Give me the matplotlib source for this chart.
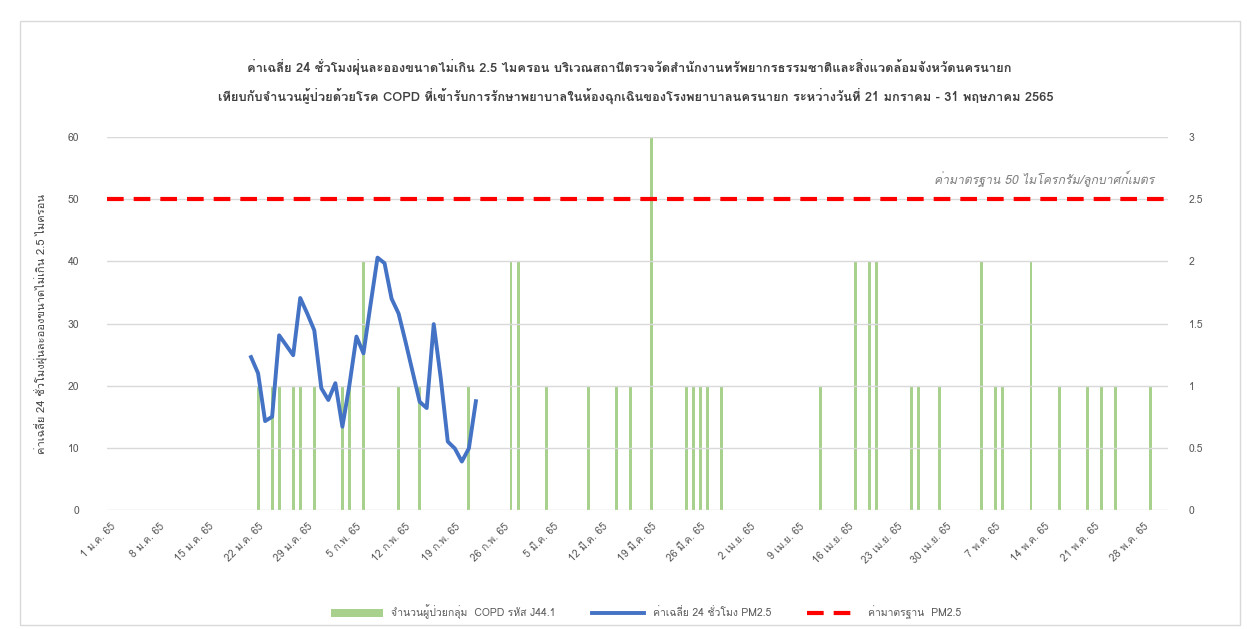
"""
PM2.5 daily average vs COPD emergency visits, Nakhon Nayok (Jan - May 2565).
"""

import matplotlib
matplotlib.use("Agg")
import matplotlib.pyplot as plt
import pandas as pd
from matplotlib import font_manager
from matplotlib.ft2font import FT2Font
from matplotlib.lines import Line2D
from matplotlib.patches import Patch, Rectangle

# ── Data ──────────────────────────────────────────────────────────────────
pm25_start = "2022-01-21"
pm25_values = [
    24.6, 22.0, 14.3, 15.0, 28.1, 26.5, 24.9, 34.1, 31.6, 28.9, 19.6,
    17.7, 20.4, 13.4, 20.1, 27.9, 25.2, 33.0, 40.6, 39.7, 34.0, 31.6,
    27.0, 22.2, 17.4, 16.4, 29.9, 21.2, 11.0, 9.9, 7.8, 9.9, 17.5,
]

copd_dates = [
    "2022-01-22", "2022-01-24", "2022-01-25", "2022-01-27", "2022-01-28",
    "2022-01-30", "2022-02-03", "2022-02-04", "2022-02-06", "2022-02-11",
    "2022-02-14", "2022-02-21", "2022-02-27", "2022-02-28", "2022-03-04",
    "2022-03-10", "2022-03-14", "2022-03-16", "2022-03-19", "2022-03-24",
    "2022-03-25", "2022-03-26", "2022-03-27", "2022-03-29", "2022-04-12",
    "2022-04-17", "2022-04-19", "2022-04-20", "2022-04-25", "2022-04-26",
    "2022-04-29", "2022-05-05", "2022-05-07", "2022-05-08", "2022-05-12",
    "2022-05-16", "2022-05-20", "2022-05-22", "2022-05-24", "2022-05-29",
]
copd_counts = [
    1, 1, 1, 1, 1, 1, 1, 1, 2, 1,
    1, 1, 2, 2, 1, 1, 1, 1, 3, 1,
    1, 1, 1, 1, 1, 2, 2, 2, 1, 1,
    1, 2, 1, 1, 2, 1, 1, 1, 1, 1,
]

standard_value = 50

tick_labels = [
    "1 ม.ค. 65", "8 ม.ค. 65", "15 ม.ค. 65", "22 ม.ค. 65", "29 ม.ค. 65",
    "5 ก.พ. 65", "12 ก.พ. 65", "19 ก.พ. 65", "26 ก.พ. 65", "5 มี.ค. 65",
    "12 มี.ค. 65", "19 มี.ค. 65", "26 มี.ค. 65", "2 เม.ย. 65", "9 เม.ย. 65",
    "16 เม.ย. 65", "23 เม.ย. 65", "30 เม.ย. 65", "7 พ.ค. 65", "14 พ.ค. 65",
    "21 พ.ค. 65", "28 พ.ค. 65",
]

title_lines = [
    "ค่าเฉลี่ย 24 ชั่วโมงฝุ่นละอองขนาดไม่เกิน 2.5 ไมครอน บริเวณสถานีตรวจวัดสำนักงานทรัพยากรธรรมชาติและสิ่งแวดล้อมจังหวัดนครนายก",
    "เทียบกับจำนวนผู้ป่วยด้วยโรค COPD ที่เข้ารับการรักษาพยาบาลในห้องฉุกเฉินของโรงพยาบาลนครนายก ระหว่างวันที่ 21 มกราคม - 31 พฤษภาคม 2565",
]
y_label = "ค่าเฉลี่ย 24 ชั่วโมงฝุ่นละอองขนาดไม่เกิน 2.5 ไมครอน"
standard_note = "ค่ามาตรฐาน 50 ไมโครกรัม/ลูกบาศก์เมตร"
legend_labels = [
    "จำนวนผู้ป่วยกลุ่ม  COPD รหัส J44.1",
    "ค่าเฉลี่ย 24 ชั่วโมง PM2.5",
    "ค่ามาตรฐาน  PM2.5",
]


def find_thai_family():
    """Return the first installed family that has Thai glyphs, if any."""
    for entry in font_manager.fontManager.ttflist:
        try:
            font = FT2Font(entry.fname)
        except Exception:
            continue
        if 0x0E01 in font.get_charmap():
            return entry.name
    return None


def main():
    thai = find_thai_family()
    families = [thai, "DejaVu Sans"] if thai else ["DejaVu Sans"]
    plt.rcParams["font.family"] = families

    text_color = "#595959"
    grid_color = "#d9d9d9"

    fig = plt.figure(figsize=(12.47, 6.29), dpi=100)
    fig.patches.append(Rectangle((0.016, 0.006), 0.978, 0.96, transform=fig.transFigure,
                                 fill=False, edgecolor=grid_color, linewidth=1))

    ax = fig.add_axes([107 / 1247, 1 - 510 / 629, 1061 / 1247, 373 / 629])
    ax2 = ax.twinx()

    # ── COPD bars (right axis) ────────────────────────────────────────────
    ax2.bar(pd.to_datetime(copd_dates), copd_counts, width=0.42,
            color="#a9d18e", linewidth=0, zorder=2)
    ax2.set_ylim(0, 3)
    ax2.set_yticks([0, 0.5, 1, 1.5, 2, 2.5, 3])
    ax2.set_yticklabels(["0", "0.5", "1", "1.5", "2", "2.5", "3"])

    # ── PM2.5 line + standard (left axis) ─────────────────────────────────
    pm25_dates = pd.date_range(pm25_start, periods=len(pm25_values), freq="D")
    ax.plot(pm25_dates, pm25_values, color="#4472c4", linewidth=2.8,
            solid_joinstyle="round", zorder=4)
    ax.axhline(standard_value, color="#ff0000", linewidth=3, dashes=(4, 2.4), zorder=3)
    ax.text(pd.Timestamp("2022-05-29 12:00"), 53.3, standard_note, ha="right", va="center",
            fontsize=8.8, style="italic", color="#7f7f7f")

    ax.set_ylim(0, 60)
    ax.set_yticks(range(0, 61, 10))
    ax.set_xlim(pd.Timestamp("2021-12-31 12:00"), pd.Timestamp("2022-05-31 12:00"))
    ax.set_xticks(pd.date_range("2022-01-01", periods=len(tick_labels), freq="7D"))
    ax.set_xticklabels(tick_labels, rotation=45, ha="right", rotation_mode="anchor")
    ax.set_ylabel(y_label, fontsize=8, color="#404040", labelpad=14)
    ax.grid(axis="y", color=grid_color, linewidth=1)
    ax.set_axisbelow(True)

    # line above bars
    ax.set_zorder(ax2.get_zorder() + 1)
    ax.patch.set_visible(False)

    for a in (ax, ax2):
        for side in ("top", "left", "right", "bottom"):
            a.spines[side].set_visible(False)
        a.tick_params(length=0, labelsize=7.5, labelcolor=text_color)
    ax.tick_params(axis="y", pad=20)
    ax.tick_params(axis="x", pad=8)
    ax2.tick_params(axis="y", pad=15)

    # ── Title & legend ────────────────────────────────────────────────────
    fig.text(0.505, 1 - 67 / 629, title_lines[0], ha="center", va="center",
             fontsize=9.3, fontweight="bold", color="#404040")
    fig.text(0.51, 1 - 96 / 629, title_lines[1], ha="center", va="center",
             fontsize=9.3, fontweight="bold", color="#404040")

    handles = [
        Patch(facecolor="#a9d18e", edgecolor="none"),
        Line2D([], [], color="#4472c4", linewidth=2.8),
        Line2D([], [], color="#ff0000", linewidth=3, dashes=(4, 2.4)),
    ]
    fig.legend(handles, legend_labels, loc="center", bbox_to_anchor=(0.518, 1 - 612 / 629),
               ncol=3, frameon=False, fontsize=7.5, columnspacing=3.5, handlelength=5,
               labelcolor=text_color)

    fig.savefig("out.png", dpi=100)
    plt.close(fig)


if __name__ == "__main__":
    main()
